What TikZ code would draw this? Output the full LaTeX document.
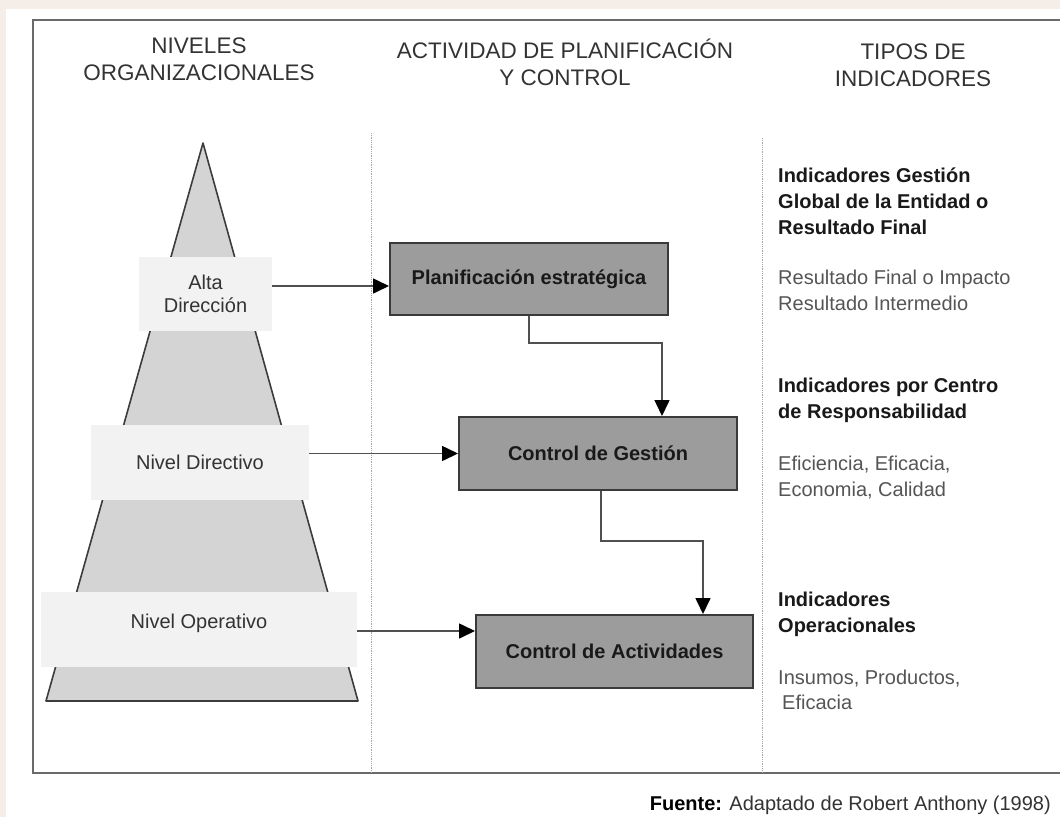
\documentclass[tikz,border=0pt]{standalone}
\usepackage{fontspec}
\setmainfont{Liberation Sans}
\usetikzlibrary{arrows.meta}
\definecolor{pagebg}{HTML}{F4EDE8}
\definecolor{framegray}{HTML}{6A6A6A}
\definecolor{pyrfill}{HTML}{D4D4D4}
\definecolor{pyrline}{HTML}{3C3C3C}
\definecolor{lvlfill}{HTML}{F2F2F2}
\definecolor{boxfill}{HTML}{9C9C9C}
\definecolor{boxline}{HTML}{3A3A3A}
\definecolor{linegray}{HTML}{505050}
\definecolor{textgray}{HTML}{555555}

\begin{document}
\begin{tikzpicture}[x=1pt,y=-1pt,
  lvl/.style={fill=lvlfill, inner sep=0pt, align=center,
    font=\fontsize{20}{23}\selectfont, text=black!80},
  stage/.style={draw=boxline, line width=2pt, fill=boxfill, inner sep=0pt,
    font=\bfseries\fontsize{20}{24}\selectfont, text=black!90},
  head/.style={align=center, inner sep=0pt,
    font=\fontsize{22.5}{27}\selectfont, text=black!80},
  indh/.style={anchor=west, align=left, inner sep=0pt,
    font=\bfseries\fontsize{20}{26}\selectfont, text=black!90},
  indt/.style={anchor=west, align=left, inner sep=0pt,
    font=\fontsize{20}{25.5}\selectfont, text=textgray},
  link/.style={draw=linegray, line width=1.6pt,
    -{Triangle[length=16pt,width=15pt,color=black]}},
  colline/.style={draw=gray!70, densely dotted, line width=0.8pt}]
\useasboundingbox (0,0) rectangle (1060,817);
\fill[pagebg] (0,0) rectangle (1060,817);
\fill[white] (6,9) rectangle (1060,817);
\draw[framegray, line width=1.8pt] (1066,20) -- (33,20) -- (33,773) -- (1066,773);

%%%%%%%%%%%%%%%%%%%%%%%%%%%%
\draw[colline] (371,133) -- (371,773);
\draw[colline] (762,138) -- (762,773);

\node[head] (hdniv) at (199,59.5) {NIVELES\\ORGANIZACIONALES};
\node[head] (hdact) at (565,62) {ACTIVIDAD DE PLANIFICACIÓN\\Y CONTROL};
\node[head] (hdtip) at (913,65.5) {TIPOS DE\\INDICADORES};

%%%%%%%%%%%%%%%%%%%%%%%%%%%%
\draw[fill=pyrfill, draw=pyrline, line width=1.6pt, line join=round]
(203,143) -- (358,701) -- (46,701) -- cycle;

\node[lvl, minimum width=133pt, minimum height=74pt] (alta) at (205.5,294)
  {Alta\\Dirección};
\node[lvl, minimum width=218pt, minimum height=75pt] (dir) at (200,462.5)
  {Nivel Directivo};
\node[lvl, minimum width=316pt, minimum height=75pt, text depth=17pt] (ope)
  at (199,629.5) {Nivel Operativo};

%%%%%%%%%%%%%%%%%%%%%%%%%%%%
\node[stage, minimum width=278pt, minimum height=72pt] (plan) at (529,279)
  {Planificación estratégica};
\node[stage, minimum width=278pt, minimum height=73pt] (gest) at (598,453.5)
  {Control de Gestión};
\node[stage, minimum width=277pt, minimum height=73pt] (acts) at (614.5,651.5)
  {Control de Actividades};

\draw[link] ([yshift=8pt]alta.east) -- ([yshift=8pt]alta.east -| plan.west);
\draw[link] (dir.east |- gest.west) -- (gest.west);
\draw[link] ([yshift=-1.5pt]ope.east) -- ([yshift=-1.5pt]ope.east -| acts.west);

\draw[link] (plan.south) -- ++(0,27) -| ([xshift=64pt]gest.north);
\draw[link] ([xshift=3pt]gest.south) -- ++(0,50) -| ([xshift=88.5pt]acts.north);

%%%%%%%%%%%%%%%%%%%%%%%%%%%%
\node[indh] (indglob) at (778,201)
  {Indicadores Gestión\\Global de la Entidad o\\Resultado Final};
\node[indt] (resglob) at (778,290.5)
  {Resultado Final o Impacto\\Resultado Intermedio};
\node[indh] (indresp) at (778,400)
  {Indicadores por Centro\\de Responsabilidad};
\node[indt] (resresp) at (778,477.5)
  {Eficiencia, Eficacia,\\Economia, Calidad};
\node[indh] (indoper) at (778,614.5)
  {Indicadores\\Operacionales};
\node[indt] (resoper) at (778,690)
  {Insumos, Productos,\\\hspace*{4pt}Eficacia};

\node[anchor=east, inner sep=0pt, font=\fontsize{20}{24}\selectfont,
  text=black!80] (fuente) at (1051,805)
  {{\color{black}\bfseries Fuente:} Adaptado de Robert Anthony (1998)};
\end{tikzpicture}
\end{document}
